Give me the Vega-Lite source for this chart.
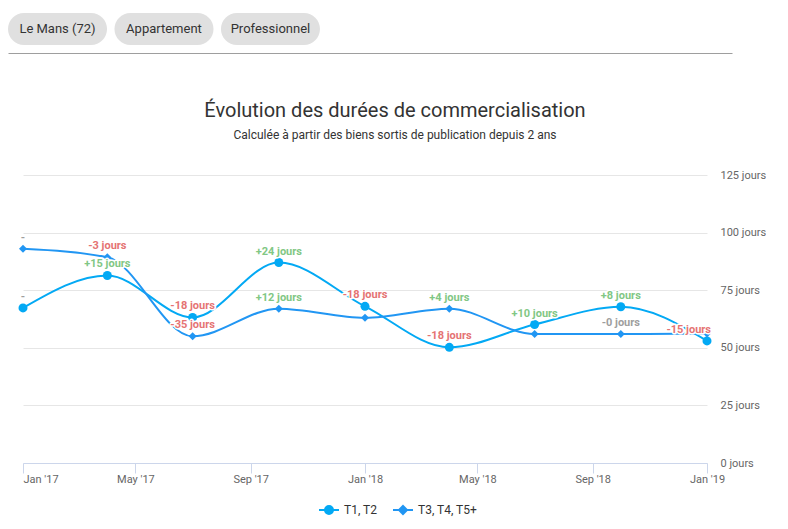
{
  "$schema": "https://vega.github.io/schema/vega-lite/v6.json",
  "padding": {"left": 8, "top": 13, "right": 0, "bottom": 0},
  "background": "#ffffff",
  "config": {
    "view": {"stroke": null},
    "font": "Roboto",
    "axis": {"labelFont": "Roboto", "titleFont": "Roboto", "labelFontWeight": "normal"},
    "legend": {"labelFont": "Roboto"}
  },
  "spacing": 48,
  "resolve": {"scale": {"color": "independent"}, "legend": {"color": "independent"}},
  "vconcat": [
    {
      "width": 709,
      "height": 32,
      "data": {"values": [{"chip": "Le Mans (72)"}, {"chip": "Appartement"}, {"chip": "Professionnel"}]},
      "encoding": {
        "x": {
          "field": "chip", "type": "nominal", "sort": null,
          "scale": {"domain": ["Le Mans (72)", "Appartement", "Professionnel", "~4", "~5", "~6"], "range": [-15, 709], "paddingInner": 0.07, "paddingOuter": 0.435, "align": 0},
          "axis": {"labels": false, "ticks": false, "title": null, "grid": false, "domain": true, "domainColor": "#9e9e9e", "domainWidth": 1, "offset": 8}
        }
      },
      "layer": [
        {"mark": {"type": "bar", "color": "#e0e0e0", "cornerRadius": 16}},
        {"mark": {"type": "text", "font": "Roboto", "fontSize": 13, "color": "#333333"}, "encoding": {"text": {"field": "chip"}}}
      ]
    },
    {
      "width": 684,
      "height": 288,
      "title": {
        "text": "Évolution des durées de commercialisation",
        "subtitle": "Calculée à partir des biens sortis de publication depuis 2 ans",
        "font": "Roboto", "fontSize": 20, "fontWeight": "normal", "color": "#333333",
        "subtitleFont": "Roboto", "subtitleFontSize": 12, "subtitleColor": "#333333", "subtitlePadding": 9,
        "offset": 28, "anchor": "middle", "frame": "group", "dx": 30
      },
      "data": {"values": [
        {"series": "T1, T2", "date": "2017-01-01", "value": 67.3, "label": "-", "trend": "none"},
        {"series": "T1, T2", "date": "2017-04-01", "value": 81.4, "label": "+15 jours", "trend": "up"},
        {"series": "T1, T2", "date": "2017-07-01", "value": 63.2, "label": "-18 jours", "trend": "down"},
        {"series": "T1, T2", "date": "2017-10-01", "value": 87.0, "label": "+24 jours", "trend": "up"},
        {"series": "T1, T2", "date": "2018-01-01", "value": 68.0, "label": "-18 jours", "trend": "down"},
        {"series": "T1, T2", "date": "2018-04-01", "value": 50.2, "label": "-18 jours", "trend": "down"},
        {"series": "T1, T2", "date": "2018-07-01", "value": 60.1, "label": "+10 jours", "trend": "up"},
        {"series": "T1, T2", "date": "2018-10-01", "value": 67.8, "label": "+8 jours", "trend": "up"},
        {"series": "T1, T2", "date": "2019-01-01", "value": 53.0, "label": "-15 jours", "trend": "down"},
        {"series": "T3, T4, T5+", "date": "2017-01-01", "value": 93.0, "label": "-", "trend": "none"},
        {"series": "T3, T4, T5+", "date": "2017-04-01", "value": 89.3, "label": "-3 jours", "trend": "down"},
        {"series": "T3, T4, T5+", "date": "2017-07-01", "value": 55.0, "label": "-35 jours", "trend": "down"},
        {"series": "T3, T4, T5+", "date": "2017-10-01", "value": 67.0, "label": "+12 jours", "trend": "up"},
        {"series": "T3, T4, T5+", "date": "2018-01-01", "value": 63.0, "label": null, "trend": "down"},
        {"series": "T3, T4, T5+", "date": "2018-04-01", "value": 67.0, "label": "+4 jours", "trend": "up"},
        {"series": "T3, T4, T5+", "date": "2018-07-01", "value": 56.0, "label": null, "trend": "down"},
        {"series": "T3, T4, T5+", "date": "2018-10-01", "value": 56.0, "label": "-0 jours", "trend": "flat"},
        {"series": "T3, T4, T5+", "date": "2019-01-01", "value": 56.2, "label": null, "trend": "flat"}
      ]},
      "encoding": {
        "x": {
          "field": "date", "type": "temporal",
          "scale": {"type": "utc", "domain": [{"year": 2017, "month": 1, "date": 1, "utc": true}, {"year": 2019, "month": 1, "date": 1, "utc": true}], "nice": false},
          "axis": {
            "title": null, "grid": false,
            "values": [
              {"year": 2017, "month": 1, "date": 1, "utc": true},
              {"year": 2017, "month": 5, "date": 1, "utc": true},
              {"year": 2017, "month": 9, "date": 1, "utc": true},
              {"year": 2018, "month": 1, "date": 1, "utc": true},
              {"year": 2018, "month": 5, "date": 1, "utc": true},
              {"year": 2018, "month": 9, "date": 1, "utc": true},
              {"year": 2019, "month": 1, "date": 1, "utc": true}
            ],
            "format": "%b '%y",
            "domainColor": "#ccd6eb", "tickColor": "#ccd6eb", "tickSize": 10,
            "labelColor": "#666666", "labelFontSize": 11, "labelPadding": 0,
            "labelAlign": {"condition": {"test": "datum.index == 0", "value": "left"}, "value": "center"},
            "labelFlush": false, "labelOverlap": false
          }
        },
        "y": {
          "field": "value", "type": "quantitative",
          "scale": {"domain": [0, 125], "nice": false, "zero": true},
          "axis": {
            "orient": "right", "title": null, "values": [0, 25, 50, 75, 100, 125],
            "labelExpr": "datum.value + ' jours'",
            "ticks": false, "tickSize": 0, "domain": false, "grid": true,
            "gridColor": "#e6e6e6", "gridWidth": 1,
            "labelColor": "#666666", "labelFontSize": 11, "labelPadding": 13, "labelBaseline": "middle"
          }
        },
        "color": {
          "field": "series", "type": "nominal",
          "scale": {"domain": ["T1, T2", "T3, T4, T5+"], "range": ["#03a9f4", "#2196f3"]},
          "legend": {
            "title": null, "orient": "none", "direction": "horizontal",
            "legendX": 300, "legendY": 329,
            "labelFontSize": 12, "labelColor": "#333333", "labelFont": "Roboto",
            "symbolType": "M-2.5,0H2.5M-1,0A1,1 0 1,1 1,0A1,1 0 1,1 -1,0Z",
            "symbolSize": 64, "symbolStrokeWidth": 2, "labelOffset": 9, "columnPadding": 11,
            "encoding": {
              "symbols": {
                "shape": {"condition": {"test": "datum.value === 'T1, T2'", "value": "M-2.5,0H2.5M-1,0A1,1 0 1,1 1,0A1,1 0 1,1 -1,0Z"}, "value": "M-2.5,0H2.5M0,-1L1,0L0,1L-1,0Z"},
                "fill": {"condition": {"test": "datum.value === 'T1, T2'", "value": "#03a9f4"}, "value": "#2196f3"},
                "stroke": {"condition": {"test": "datum.value === 'T1, T2'", "value": "#03a9f4"}, "value": "#2196f3"},
                "strokeWidth": {"value": 2}
              }
            }
          }
        }
      },
      "layer": [
        {"mark": {"type": "line", "interpolate": "monotone", "strokeWidth": 2}},
        {
          "transform": [{"filter": "datum.series == 'T1, T2'"}],
          "mark": {"type": "point", "filled": true, "opacity": 1, "shape": "circle", "size": 81}
        },
        {
          "transform": [{"filter": "datum.series == 'T3, T4, T5+'"}],
          "mark": {"type": "point", "filled": true, "opacity": 1, "shape": "diamond", "size": 64}
        },
        {
          "transform": [{"filter": "isValid(datum.label) && toDate(datum.date) < toDate('2018-12-01')"}],
          "mark": {"type": "text", "font": "Roboto", "fontSize": 11, "fontWeight": "bold", "dy": -11, "fill": "#ffffff", "stroke": "#ffffff", "strokeWidth": 3, "strokeJoin": "round"},
          "encoding": {"text": {"field": "label"}, "color": {"value": "#ffffff"}}
        },
        {
          "transform": [{"filter": "isValid(datum.label) && toDate(datum.date) < toDate('2018-12-01')"}],
          "mark": {"type": "text", "font": "Roboto", "fontSize": 11, "fontWeight": "bold", "dy": -11},
          "encoding": {
            "text": {"field": "label"},
            "color": {"condition": [{"test": "datum.trend == 'up'", "value": "#81c784"}, {"test": "datum.trend == 'down'", "value": "#e57373"}], "value": "#9e9e9e"}
          }
        },
        {
          "transform": [{"filter": "isValid(datum.label) && toDate(datum.date) > toDate('2018-12-01')"}],
          "mark": {"type": "text", "font": "Roboto", "fontSize": 11, "fontWeight": "bold", "dy": -11, "align": "right", "dx": 4, "fill": "#ffffff", "stroke": "#ffffff", "strokeWidth": 3, "strokeJoin": "round"},
          "encoding": {"text": {"field": "label"}, "color": {"value": "#ffffff"}}
        },
        {
          "transform": [{"filter": "isValid(datum.label) && toDate(datum.date) > toDate('2018-12-01')"}],
          "mark": {"type": "text", "font": "Roboto", "fontSize": 11, "fontWeight": "bold", "dy": -11, "align": "right", "dx": 4},
          "encoding": {
            "text": {"field": "label"},
            "color": {"condition": [{"test": "datum.trend == 'up'", "value": "#81c784"}, {"test": "datum.trend == 'down'", "value": "#e57373"}], "value": "#9e9e9e"}
          }
        }
      ]
    }
  ]
}
